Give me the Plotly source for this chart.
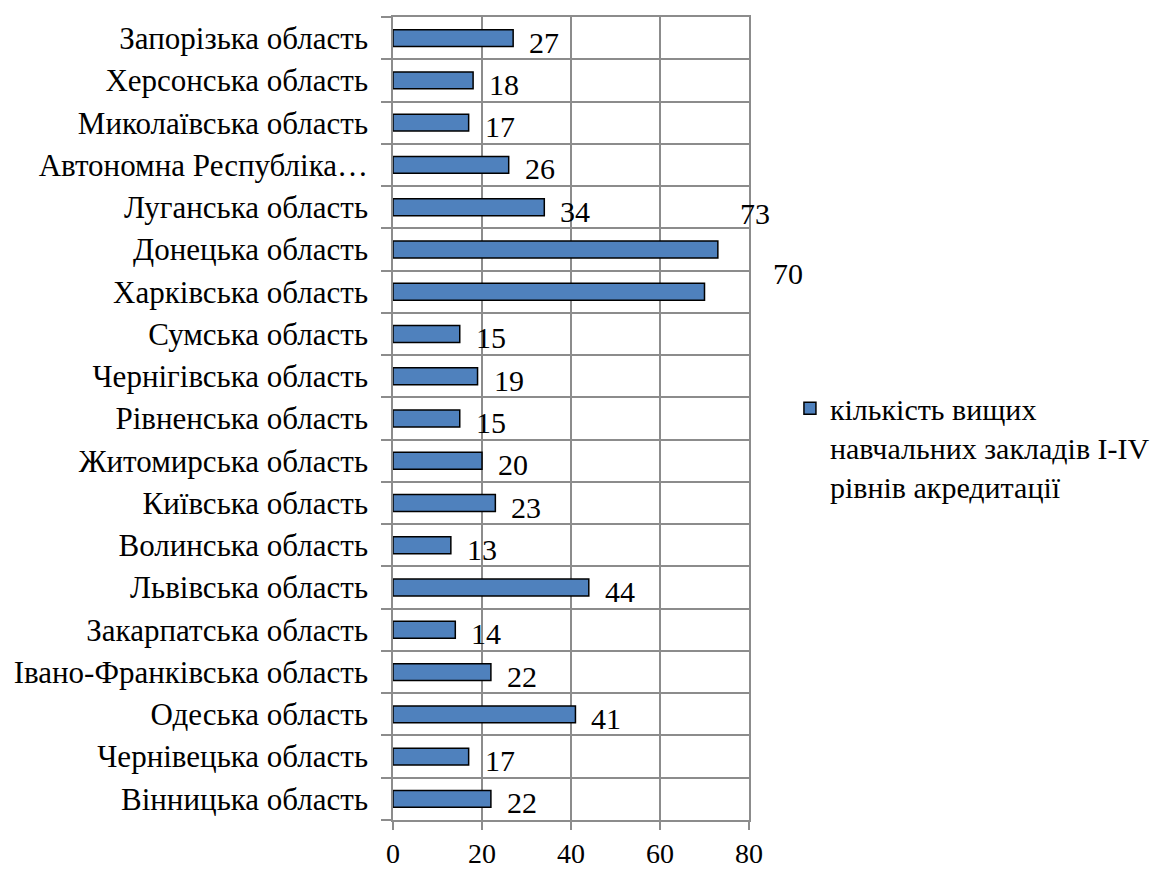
import plotly.graph_objects as go

# regions listed bottom -> top, as they appear on the chart
regions = [
    "Вінницька область",
    "Чернівецька область",
    "Одеська область",
    "Івано-Франківська область",
    "Закарпатська область",
    "Львівська область",
    "Волинська область",
    "Київська область",
    "Житомирська область",
    "Рівненська область",
    "Чернігівська область",
    "Сумська область",
    "Харківська область",
    "Донецька область",
    "Луганська область",
    "Автономна Республіка…",
    "Миколаївська область",
    "Херсонська область",
    "Запорізька область",
]
counts = [22, 17, 41, 22, 14, 44, 13, 23, 20, 15, 19, 15, 70, 73, 34, 26, 17, 18, 27]
x_ticks = [0, 20, 40, 60, 80]
series_name = "кількість вищих<br>навчальних закладів І-IV<br>рівнів акредитації"

serif = "Liberation Serif"
pos = list(range(len(regions)))

fig = go.Figure()
fig.add_trace(go.Bar(
    x=counts, y=pos, orientation="h", width=0.4,
    marker=dict(color="#4F81BD", line=dict(color="#000000", width=1.5)),
    name=series_name, showlegend=True,
))

# data labels; two of them sit off their bars in the original
label_shift = {"Донецька область": (20, 36), "Харківська область": (66, 18)}
for i, (r, v) in enumerate(zip(regions, counts)):
    dx, dy = label_shift.get(r, (14, -4))
    fig.add_annotation(x=v, y=i, text=str(v), showarrow=False,
                       xanchor="left", xshift=dx, yshift=dy,
                       font=dict(family=serif, size=30, color="#000000"))

fig.update_layout(
    width=1163, height=872,
    margin=dict(l=385, r=422, t=9, b=60),
    paper_bgcolor="white", plot_bgcolor="white",
    showlegend=True,
    legend=dict(x=1.115, y=0.545, xanchor="left", yanchor="top", valign="top",
                font=dict(family=serif, size=30, color="#000000"),
                itemwidth=30, tracegroupgap=0),
    font=dict(family=serif, size=31, color="#000000"),
)
fig.update_xaxes(
    range=[0, 80], tickvals=x_ticks, showgrid=True,
    gridcolor="#8C8C8C", gridwidth=1.5,
    ticks="outside", ticklen=8, tickcolor="#8C8C8C", tickwidth=1.5,
    ticklabelstandoff=0, automargin=False,
    tickfont=dict(family=serif, size=28, color="#000000"),
    showline=True, linecolor="#8C8C8C", linewidth=1.5, mirror=True,
    zeroline=False,
)
fig.update_yaxes(
    range=[-0.5, len(regions) - 0.5], tickvals=pos, ticktext=regions,
    showgrid=False, ticks="", ticklabelstandoff=17, automargin=False,
    tickfont=dict(family=serif, size=31, color="#000000"),
    minor=dict(tickvals=[p - 0.5 for p in pos] + [len(regions) - 0.5],
               showgrid=True, gridcolor="#8C8C8C", gridwidth=1.5,
               ticks="outside", ticklen=10, tickcolor="#8C8C8C", tickwidth=1.5),
    showline=True, linecolor="#8C8C8C", linewidth=1.5, mirror=True,
    zeroline=False,
)

fig.write_html("out.html")
